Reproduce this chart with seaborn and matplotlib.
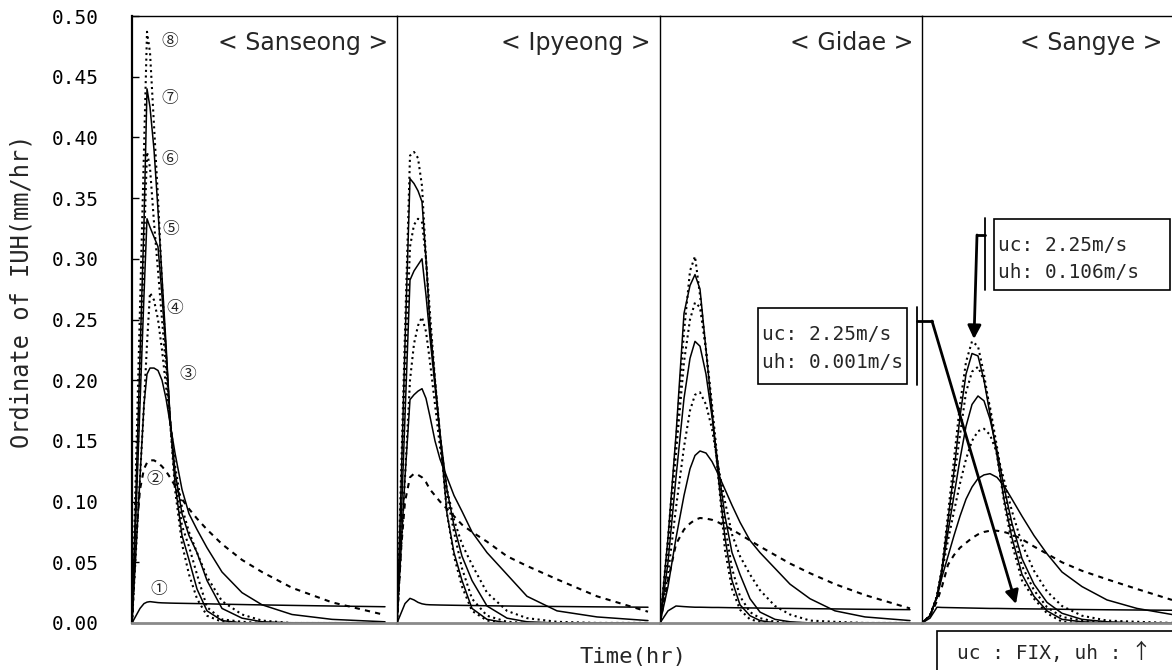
import numpy as np
import pandas as pd
import seaborn as sns
import matplotlib.pyplot as plt
from matplotlib.patches import Rectangle, FancyArrowPatch
from matplotlib.lines import Line2D

sns.set_style('white')
plt.rcParams['font.family'] = ['DejaVu Sans Mono', 'Noto Sans CJK KR']

# IUH ordinates (mm/hr), curves 1..8 for every basin
sanseong_t = [0, 4, 8, 12, 15, 18, 22, 26, 30, 34, 38, 43, 50, 57, 65, 75, 90, 110, 130, 160, 200, 253]
sanseong_iuh = [
    [0, 0.006, 0.012, 0.016, 0.0172, 0.0176, 0.0172, 0.0168, 0.0166, 0.0165, 0.0164, 0.0163, 0.0162, 0.0161, 0.016, 0.0158, 0.0155, 0.0152, 0.0149, 0.0145, 0.014, 0.0134],
    [0, 0.07, 0.11, 0.127, 0.132, 0.134, 0.134, 0.132, 0.129, 0.125, 0.12, 0.113, 0.102, 0.094, 0.086, 0.077, 0.065, 0.052, 0.042, 0.029, 0.017, 0.0066],
    [0, 0.06, 0.12, 0.18, 0.205, 0.21, 0.21, 0.208, 0.2, 0.185, 0.165, 0.14, 0.11, 0.09, 0.077, 0.062, 0.042, 0.025, 0.015, 0.007, 0.003, 0.001],
    [0, 0.06, 0.12, 0.18, 0.23, 0.272, 0.266, 0.25, 0.225, 0.195, 0.168, 0.13, 0.095, 0.075, 0.058, 0.038, 0.018, 0.007, 0.002, 0, 0, 0],
    [0, 0.09, 0.18, 0.27, 0.333, 0.326, 0.318, 0.31, 0.27, 0.225, 0.17, 0.125, 0.09, 0.072, 0.058, 0.035, 0.012, 0.004, 0.001, 0, 0, 0],
    [0, 0.1, 0.2, 0.31, 0.388, 0.375, 0.33, 0.29, 0.25, 0.21, 0.167, 0.12, 0.08, 0.063, 0.04, 0.013, 0.003, 0.001, 0, 0, 0, 0],
    [0, 0.11, 0.22, 0.33, 0.44, 0.425, 0.39, 0.34, 0.285, 0.23, 0.17, 0.115, 0.072, 0.052, 0.028, 0.01, 0.002, 0, 0, 0, 0, 0],
    [0, 0.13, 0.26, 0.39, 0.487, 0.47, 0.41, 0.35, 0.28, 0.22, 0.167, 0.11, 0.065, 0.04, 0.02, 0.006, 0.001, 0, 0, 0, 0, 0],
]

ipyeong_t = [0, 4, 8, 13, 17, 21, 25, 29, 33, 38, 43, 50, 57, 65, 75, 90, 110, 130, 160, 200, 251]
ipyeong_iuh = [
    [0, 0.008, 0.016, 0.0203, 0.019, 0.017, 0.0158, 0.0152, 0.015, 0.0149, 0.0148, 0.0147, 0.0146, 0.0145, 0.0144, 0.0142, 0.014, 0.0138, 0.0136, 0.0133, 0.013],
    [0, 0.06, 0.1, 0.12, 0.123, 0.122, 0.12, 0.116, 0.11, 0.105, 0.1, 0.094, 0.088, 0.081, 0.075, 0.067, 0.055, 0.047, 0.036, 0.022, 0.0093],
    [0, 0.06, 0.12, 0.184, 0.188, 0.191, 0.193, 0.185, 0.17, 0.15, 0.135, 0.12, 0.105, 0.092, 0.075, 0.058, 0.04, 0.022, 0.01, 0.005, 0.002],
    [0, 0.06, 0.12, 0.2, 0.23, 0.245, 0.252, 0.24, 0.215, 0.18, 0.145, 0.11, 0.085, 0.065, 0.048, 0.025, 0.01, 0.004, 0.001, 0, 0],
    [0, 0.08, 0.17, 0.2825, 0.29, 0.295, 0.3, 0.27, 0.235, 0.195, 0.156, 0.11, 0.08, 0.055, 0.035, 0.014, 0.004, 0.001, 0, 0, 0],
    [0, 0.1, 0.2, 0.31, 0.328, 0.333, 0.33, 0.3, 0.255, 0.2, 0.155, 0.105, 0.075, 0.045, 0.02, 0.006, 0.001, 0, 0, 0, 0],
    [0, 0.11, 0.23, 0.366, 0.362, 0.356, 0.347, 0.3, 0.245, 0.2, 0.155, 0.09, 0.058, 0.035, 0.012, 0.003, 0, 0, 0, 0, 0],
    [0, 0.12, 0.24, 0.385, 0.388, 0.383, 0.36, 0.3, 0.245, 0.2, 0.155, 0.09, 0.055, 0.03, 0.01, 0.002, 0, 0, 0, 0, 0],
]

gidae_t = [0, 8, 16, 24, 30, 35, 40, 46, 52, 58, 65, 72, 80, 90, 100, 115, 130, 150, 175, 205, 250]
gidae_iuh = [
    [0, 0.01, 0.014, 0.0135, 0.0132, 0.013, 0.013, 0.0129, 0.0128, 0.0128, 0.0127, 0.0126, 0.0125, 0.0124, 0.0123, 0.0121, 0.012, 0.0118, 0.0116, 0.0113, 0.011],
    [0, 0.035, 0.065, 0.077, 0.082, 0.085, 0.0865, 0.086, 0.085, 0.083, 0.08, 0.077, 0.073, 0.068, 0.063, 0.056, 0.049, 0.041, 0.032, 0.023, 0.012],
    [0, 0.03, 0.07, 0.105, 0.127, 0.138, 0.1417, 0.14, 0.133, 0.123, 0.11, 0.097, 0.083, 0.068, 0.058, 0.045, 0.032, 0.02, 0.01, 0.005, 0.002],
    [0, 0.04, 0.095, 0.145, 0.175, 0.188, 0.19, 0.18, 0.16, 0.13, 0.1, 0.073, 0.055, 0.04, 0.027, 0.014, 0.007, 0.002, 0.001, 0, 0],
    [0, 0.05, 0.12, 0.185, 0.218, 0.232, 0.228, 0.205, 0.17, 0.13, 0.088, 0.058, 0.04, 0.02, 0.009, 0.003, 0.001, 0, 0, 0, 0],
    [0, 0.06, 0.14, 0.215, 0.25, 0.264, 0.26, 0.225, 0.18, 0.13, 0.08, 0.045, 0.022, 0.009, 0.004, 0.001, 0, 0, 0, 0, 0],
    [0, 0.07, 0.155, 0.255, 0.278, 0.287, 0.275, 0.225, 0.175, 0.123, 0.07, 0.035, 0.015, 0.006, 0.002, 0, 0, 0, 0, 0, 0],
    [0, 0.07, 0.15, 0.24, 0.29, 0.302, 0.27, 0.225, 0.175, 0.123, 0.06, 0.028, 0.011, 0.003, 0.001, 0, 0, 0, 0, 0, 0],
]

sangye_t = [0, 8, 15, 20, 26, 32, 38, 44, 50, 56, 62, 68, 75, 82, 90, 100, 112, 125, 140, 160, 185, 215, 250]
sangye_iuh = [
    [0, 0.004, 0.013, 0.0128, 0.0127, 0.0126, 0.0125, 0.0124, 0.0123, 0.0122, 0.0121, 0.012, 0.012, 0.0119, 0.0118, 0.0117, 0.0116, 0.0115, 0.0113, 0.0111, 0.0109, 0.0107, 0.0105],
    [0, 0.006, 0.018, 0.03, 0.048, 0.056, 0.062, 0.066, 0.07, 0.073, 0.075, 0.076, 0.076, 0.075, 0.073, 0.069, 0.063, 0.057, 0.05, 0.043, 0.036, 0.028, 0.019],
    [0, 0.006, 0.021, 0.038, 0.055, 0.072, 0.088, 0.102, 0.112, 0.119, 0.122, 0.123, 0.12, 0.113, 0.102, 0.088, 0.072, 0.057, 0.042, 0.03, 0.019, 0.012, 0.007],
    [0, 0.006, 0.022, 0.042, 0.068, 0.092, 0.115, 0.135, 0.15, 0.158, 0.16, 0.155, 0.14, 0.118, 0.092, 0.065, 0.043, 0.026, 0.014, 0.006, 0.002, 0.001, 0],
    [0, 0.006, 0.022, 0.043, 0.075, 0.105, 0.135, 0.162, 0.18, 0.187, 0.183, 0.168, 0.142, 0.112, 0.082, 0.053, 0.032, 0.017, 0.008, 0.003, 0.001, 0, 0],
    [0, 0.006, 0.022, 0.044, 0.08, 0.118, 0.155, 0.19, 0.207, 0.211, 0.2, 0.178, 0.145, 0.11, 0.077, 0.047, 0.027, 0.013, 0.005, 0.002, 0, 0, 0],
    [0, 0.006, 0.022, 0.045, 0.085, 0.125, 0.17, 0.205, 0.222, 0.22, 0.2, 0.172, 0.138, 0.102, 0.07, 0.04, 0.022, 0.01, 0.003, 0.001, 0, 0, 0],
    [0, 0.006, 0.022, 0.045, 0.09, 0.135, 0.18, 0.215, 0.232, 0.228, 0.205, 0.175, 0.138, 0.1, 0.065, 0.035, 0.02, 0.008, 0.001, 0, 0, 0, 0],
]

basins = ['Sanseong', 'Ipyeong', 'Gidae', 'Sangye']
curve_ids = ['①', '②', '③', '④', '⑤', '⑥', '⑦', '⑧']
# where the curve numbers sit in the Sanseong panel (time, ordinate)
label_t = [27, 23, 56, 43, 39, 38, 38, 38]
label_v = [0.028, 0.118, 0.205, 0.259, 0.324, 0.382, 0.432, 0.479]
yticks = [0.00, 0.05, 0.10, 0.15, 0.20, 0.25, 0.30, 0.35, 0.40, 0.45, 0.50]

# line style per curve: odd ones solid, 2 dashed, the rest dotted
dash_map = {'①': '', '②': (2.5, 2.5), '③': '', '④': (1, 1.7),
            '⑤': '', '⑥': (1, 1.7), '⑦': '', '⑧': (1, 1.7)}

W, H = 1172, 670
fig = plt.figure(figsize=(W / 100, H / 100), dpi=100)


def fx(x):
    return x / W


def fy(y):
    return 1 - y / H


panel_px = [(132, 397), (397, 660), (660, 922), (922, 1172)]
top_px, bot_px = 16, 623
series = [(sanseong_t, sanseong_iuh), (ipyeong_t, ipyeong_iuh),
          (gidae_t, gidae_iuh), (sangye_t, sangye_iuh)]

axes = []
for i, ((x0, x1), (t, iuh)) in enumerate(zip(panel_px, series)):
    ax = fig.add_axes([fx(x0), fy(bot_px), (x1 - x0) / W, (bot_px - top_px) / H])
    df = pd.DataFrame({'t': np.tile(t, len(iuh)),
                       'iuh': np.concatenate(iuh),
                       'curve': np.repeat(curve_ids, len(t))})
    sns.lineplot(data=df, x='t', y='iuh', hue='curve', style='curve',
                 palette={c: 'black' for c in curve_ids}, dashes=dash_map,
                 estimator=None, legend=False, lw=1.1, ax=ax)
    # the dotted / dashed curves are drawn a bit heavier
    for ln in ax.lines:
        if ln.get_linestyle() != '-':
            ln.set_linewidth(1.5)
    ax.set_xlim(0, x1 - x0)
    ax.set_ylim(0, 0.5)
    ax.set_xticks([])
    ax.set_xlabel('')
    ax.set_ylabel('')
    ax.spines['right'].set_visible(False)
    ax.spines['top'].set_color('black')
    ax.spines['top'].set_linewidth(1.0)
    ax.spines['bottom'].set_color('#8a8a8a')
    ax.spines['bottom'].set_linewidth(2.0)
    ax.spines['left'].set_color('black')
    ax.spines['left'].set_linewidth(1.6 if i == 0 else 1.0)
    if i == 0:
        ax.set_yticks(yticks)
        ax.set_yticklabels([f'{v:.2f}' for v in yticks])
        ax.tick_params(axis='y', direction='in', length=5, width=1, pad=24,
                       labelsize=14, left=True, colors='black')
    else:
        ax.set_yticks([])
    ax.annotate(f'< {basins[i]} >', xy=(1, 1), xycoords='axes fraction',
                xytext=(-9, -27), textcoords='offset pixels',
                ha='right', va='center', fontsize=17, family='DejaVu Sans')
    axes.append(ax)

for k in range(8):
    axes[0].text(label_t[k], label_v[k], curve_ids[k], ha='center', va='center',
                 fontsize=12, color='#222222',
                 family=['Noto Sans CJK KR', 'DejaVu Sans'])

fig.text(fx(22), fy(291), 'Ordinate of IUH(mm/hr)', rotation=90,
         ha='center', va='center', fontsize=17)
fig.text(fx(633), fy(657), 'Time(hr)', ha='center', va='center', fontsize=16)

# annotation boxes
box_kw = dict(transform=fig.transFigure, fill=False, lw=1.2, ec='black')
fig.add_artist(Rectangle((fx(758), fy(384)), fx(907) - fx(758), fy(308) - fy(384), **box_kw))
fig.text(fx(762), fy(335), 'uc: 2.25m/s', ha='left', va='center', fontsize=14)
fig.text(fx(762), fy(362), 'uh: 0.001m/s', ha='left', va='center', fontsize=14)

fig.add_artist(Rectangle((fx(994), fy(290)), fx(1170) - fx(994), fy(219) - fy(290), **box_kw))
fig.text(fx(998), fy(245), 'uc: 2.25m/s', ha='left', va='center', fontsize=14)
fig.text(fx(998), fy(272), 'uh: 0.106m/s', ha='left', va='center', fontsize=14)

fig.add_artist(Rectangle((fx(937), fy(680)), fx(1185) - fx(937), fy(631) - fy(680), **box_kw))
fig.text(fx(957), fy(653), 'uc : FIX, uh :', ha='left', va='center', fontsize=14)
fig.text(fx(1141), fy(652), '↑', ha='center', va='center', fontsize=15,
         family=['Noto Sans CJK KR', 'DejaVu Sans'])

# brackets and arrows
line_kw = dict(transform=fig.transFigure, color='black', lw=1.3)
fig.add_artist(Line2D([fx(917), fx(917)], [fy(307), fy(385)], **line_kw))
fig.add_artist(Line2D([fx(917), fx(932)], [fy(321), fy(321)], lw=2, color='black',
                      transform=fig.transFigure))
fig.add_artist(FancyArrowPatch((fx(932), fy(321)), (fx(1016), fy(604)),
                               transform=fig.transFigure, arrowstyle='-|>',
                               mutation_scale=20, lw=2, color='black',
                               shrinkA=0, shrinkB=0))

fig.add_artist(Line2D([fx(985), fx(985)], [fy(218), fy(290)], **line_kw))
fig.add_artist(Line2D([fx(977), fx(985)], [fy(235), fy(235)], lw=2, color='black',
                      transform=fig.transFigure))
fig.add_artist(FancyArrowPatch((fx(977), fy(235)), (fx(974), fy(339)),
                               transform=fig.transFigure, arrowstyle='-|>',
                               mutation_scale=20, lw=2, color='black',
                               shrinkA=0, shrinkB=0))

fig.savefig('out.png', dpi=100)
